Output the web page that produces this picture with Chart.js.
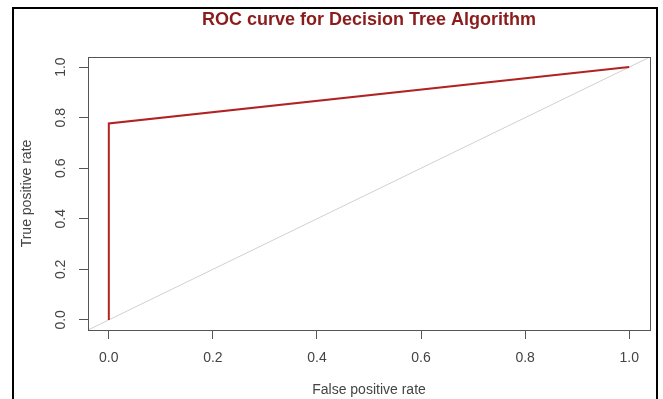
<!DOCTYPE html>
<html>
<head>
<meta charset="utf-8">
<script src="https://cdn.jsdelivr.net/npm/chart.js@4/dist/chart.umd.min.js"></script>
<style>
  html, body { margin: 0; padding: 0; background: #fff; }
  canvas { display: block; }
</style>
</head>
<body>
<canvas id="roc" width="663" height="399"></canvas>
<script>
// ROC points
const fpr = [0, 0, 1];
const tpr = [0, 0.777, 1];
// chance line, spans the whole plot region like R's abline
const chanceX = [-0.04, 1.04];
const chanceY = [-0.04, 1.04];
const tickValues = [0, 0.2, 0.4, 0.6, 0.8, 1.0];
const tickLabels = ["0.0", "0.2", "0.4", "0.6", "0.8", "1.0"];

const titleText = "ROC curve for Decision Tree Algorithm";
const xTitle = "False positive rate";
const yTitle = "True positive rate";

Chart.defaults.font.family = "'Liberation Sans', Arial, sans-serif";

const toPoints = (xs, ys) => xs.map((x, i) => ({ x: x, y: ys[i] }));

// frame, plot box, title and rotated y tick labels (R style)
const rStyle = {
    id: "rStyle",
    beforeDraw(chart) {
        const ctx = chart.ctx;
        ctx.save();
        ctx.fillStyle = "#fff";
        ctx.fillRect(0, 0, chart.width, chart.height);
        ctx.fillStyle = "#000";
        ctx.fillRect(12, 7, 646, 2);
        ctx.fillRect(12, 7, 2, chart.height);
        ctx.fillRect(656, 7, 2, chart.height);
        ctx.restore();
    },
    afterDraw(chart) {
        const ctx = chart.ctx;
        const area = chart.chartArea;
        const y = chart.scales.y;
        ctx.save();
        ctx.strokeStyle = "#555";
        ctx.lineWidth = 1;
        ctx.strokeRect(area.left + 0.5, area.top + 0.5, area.right - area.left, area.bottom - area.top);

        ctx.fillStyle = "#8b1c1c";
        ctx.font = "bold 18px 'Liberation Sans', Arial, sans-serif";
        ctx.textAlign = "center";
        ctx.textBaseline = "middle";
        ctx.fillText(titleText, (area.left + area.right) / 2, 20);

        ctx.fillStyle = "#444";
        ctx.font = "14px 'Liberation Sans', Arial, sans-serif";
        tickValues.forEach((v, i) => {
            ctx.save();
            ctx.translate(61, y.getPixelForValue(v));
            ctx.rotate(-Math.PI / 2);
            ctx.fillText(tickLabels[i], 0, 0);
            ctx.restore();
        });
        ctx.restore();
    },
};

new Chart(document.getElementById("roc"), {
    type: "scatter",
    data: {
        datasets: [
            {
                data: toPoints(fpr, tpr),
                showLine: true,
                borderColor: "#b22222",
                borderWidth: 2,
                pointRadius: 0,
                tension: 0,
            },
            {
                data: toPoints(chanceX, chanceY),
                showLine: true,
                borderColor: "#d0d0d0",
                borderWidth: 1,
                pointRadius: 0,
                tension: 0,
            },
        ],
    },
    options: {
        responsive: false,
        animation: false,
        layout: { padding: { top: 57, right: 13, left: 0, bottom: 0 } },
        plugins: {
            legend: { display: false },
            tooltip: { enabled: false },
        },
        scales: {
            x: {
                type: "linear",
                min: -0.04,
                max: 1.04,
                afterBuildTicks: (s) => { s.ticks = tickValues.map((v) => ({ value: v })); },
                afterFit: (s) => { s.height = 69; },
                ticks: {
                    callback: (v, i) => tickLabels[i],
                    font: { size: 14 },
                    color: "#444",
                    padding: 11,
                    maxRotation: 0,
                },
                grid: { drawOnChartArea: false, drawTicks: true, tickLength: 9, color: "#555" },
                border: { display: false },
                title: {
                    display: true,
                    text: xTitle,
                    font: { size: 14 },
                    color: "#444",
                    padding: { top: 0, bottom: 0 },
                },
            },
            y: {
                type: "linear",
                min: -0.04,
                max: 1.04,
                afterBuildTicks: (s) => { s.ticks = tickValues.map((v) => ({ value: v })); },
                afterFit: (s) => { s.width = 88; },
                ticks: { display: false },
                grid: { drawOnChartArea: false, drawTicks: true, tickLength: 9, color: "#555" },
                border: { display: false },
                title: {
                    display: true,
                    text: yTitle,
                    font: { size: 14 },
                    color: "#444",
                    padding: { top: 19, bottom: 0 },
                },
            },
        },
    },
    plugins: [rStyle],
});
</script>
</body>
</html>
